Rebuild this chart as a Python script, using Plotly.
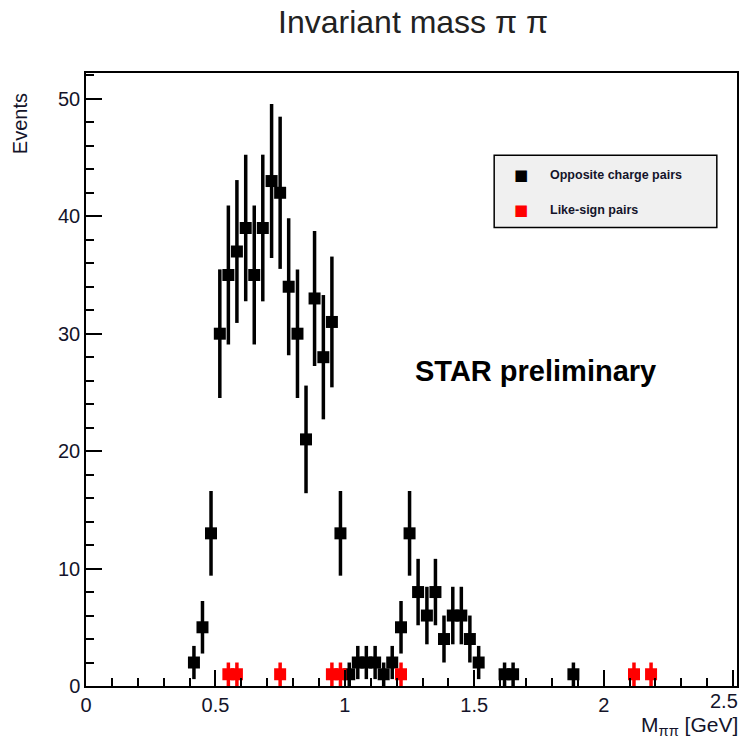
import numpy as np
import plotly.graph_objects as go

# Invariant-mass histogram, 1/30 GeV bins: bin centres [GeV] and event counts
opp_mass = [0.417, 0.450, 0.483, 0.517, 0.550, 0.583, 0.617, 0.650, 0.683, 0.717,
            0.750, 0.783, 0.817, 0.850, 0.883, 0.917, 0.950, 0.983, 1.017, 1.050,
            1.083, 1.117, 1.150, 1.183, 1.217, 1.250, 1.283, 1.317, 1.350, 1.383,
            1.417, 1.450, 1.483, 1.517, 1.617, 1.650, 1.883]
opp_counts = [2, 5, 13, 30, 35, 37, 39, 35, 39, 43,
              42, 34, 30, 21, 33, 28, 31, 13, 1, 2,
              2, 2, 1, 2, 5, 13, 8, 6, 8, 4,
              6, 6, 4, 2, 1, 1, 1]

like_mass = [0.550, 0.583, 0.750, 0.950, 0.983, 1.217, 2.117, 2.183]
like_counts = [1, 1, 1, 1, 1, 1, 1, 1]

x_ticks = [0, 0.5, 1, 1.5, 2, 2.5]
x_labels = ["0", "0.5", "1", "1.5", "2", ""]   # last label is drawn pulled inside the canvas
x_last_label = "2.5"
y_ticks = [0, 10, 20, 30, 40, 50]
y_labels = ["0", "10", "20", "30", "40", "50"]

FONT = "Liberation Sans, Arial, sans-serif"
INK = "#14142a"


def hist_trace(mass, counts, color):
    counts = np.asarray(counts, dtype=float)
    return go.Scatter(
        x=mass, y=counts, mode="markers",
        marker=dict(symbol="square", size=12, color=color, line=dict(width=0)),
        error_y=dict(type="data", array=np.sqrt(counts), color=color,
                     thickness=3.5, width=0),
        showlegend=False, hoverinfo="x+y",
    )


fig = go.Figure()
fig.add_trace(hist_trace(opp_mass, opp_counts, "black"))
fig.add_trace(hist_trace(like_mass, like_counts, "#ff0000"))

axis_common = dict(
    showline=True, linecolor="black", linewidth=1.5, mirror=True,
    ticks="inside", tickcolor="black", tickwidth=1.5,
    showgrid=False, zeroline=False, automargin=False,
    tickfont=dict(family=FONT, size=20, color=INK),
)

fig.update_xaxes(
    range=[0, 2.515], tickvals=x_ticks, ticktext=x_labels, ticklen=16,
    minor=dict(ticks="inside", dtick=0.1, ticklen=8, tickcolor="black", tickwidth=1.5),
    **axis_common,
)
fig.update_yaxes(
    range=[0, 52.2], tickvals=y_ticks, ticktext=y_labels, ticklen=16,
    minor=dict(ticks="inside", dtick=2, ticklen=8, tickcolor="black", tickwidth=1.5),
    **axis_common,
)

fig.add_annotation(xref="paper", yref="paper", x=0.980, y=-0.0245,
                   text=x_last_label, showarrow=False,
                   font=dict(family=FONT, size=20, color=INK),
                   xanchor="center", yanchor="middle")

# Legend box
fig.add_shape(type="rect", xref="paper", yref="paper",
              x0=0.627, x1=0.969, y0=0.748, y1=0.866,
              fillcolor="#f0f0f0", line=dict(color="black", width=1.5), layer="above")
legend_rows = [("Opposite charge pairs", "black", 0.834), ("Like-sign pairs", "#ff0000", 0.776)]
for label, color, yy in legend_rows:
    fig.add_annotation(xref="paper", yref="paper", x=0.668, y=yy, text="■",
                       showarrow=False, font=dict(family="DejaVu Sans", size=15, color=color),
                       xanchor="center", yanchor="middle")
    fig.add_annotation(xref="paper", yref="paper", x=0.709, y=yy, text=f"<b>{label}</b>",
                       showarrow=False, font=dict(family=FONT, size=12.5, color=INK),
                       xanchor="left", yanchor="middle")

fig.add_annotation(xref="paper", yref="paper", x=0.69, y=0.514,
                   text="<b>STAR preliminary</b>", showarrow=False,
                   font=dict(family=FONT, size=29, color="black"),
                   xanchor="center", yanchor="middle")

# Axis titles
fig.add_annotation(xref="paper", yref="paper", x=1.005, y=-0.0415,
                   text="M<sub>ππ</sub> [GeV]", showarrow=False,
                   font=dict(family=FONT, size=21, color=INK),
                   xanchor="right", yanchor="top")
fig.add_annotation(xref="paper", yref="paper", x=-0.101, y=0.97,
                   text="Events", showarrow=False, textangle=-90,
                   font=dict(family=FONT, size=20, color=INK),
                   xanchor="center", yanchor="top")

fig.update_layout(
    width=751, height=742,
    margin=dict(l=86, r=14, t=73, b=56),
    paper_bgcolor="white", plot_bgcolor="white",
    title=dict(text="Invariant mass π π", x=0.55, xanchor="center", y=0.97, yanchor="middle",
               font=dict(family=FONT, size=32, color="#222")),
    showlegend=False,
)

fig.write_html("out.html")
